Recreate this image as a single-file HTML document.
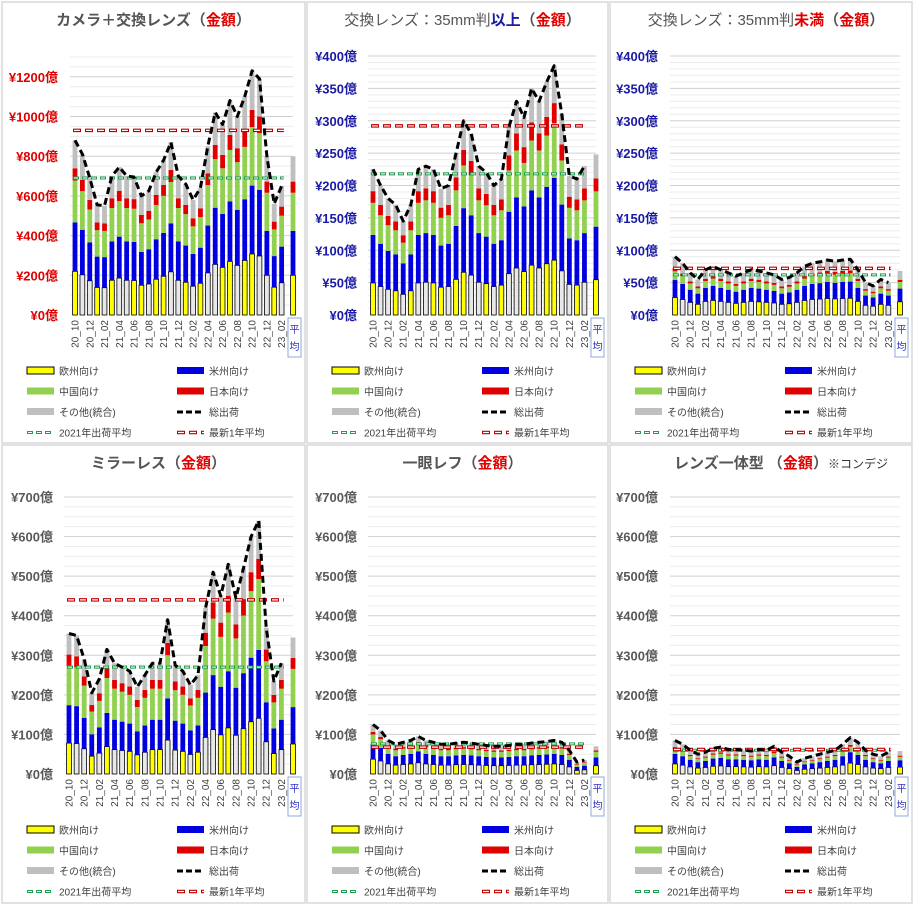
<!DOCTYPE html>
<html><head><meta charset="utf-8"><style>
body{margin:0;background:#fff;}
svg{display:block;font-family:"Liberation Sans","Noto Sans CJK JP",sans-serif;}
</style></head><body>
<svg id="s" width="915" height="906" viewBox="0 0 915 906" xmlns="http://www.w3.org/2000/svg"></svg>
<script>
const S=document.getElementById('s');let h='';
h+='<rect x="0" y="0" width="915" height="906" fill="#fff"/>';
const P=[
 {x:2,y:2,w:303,h:441,z:315,top:57,max:1300,step:200,minor:50,lc:'#e00000',lx:58,pl:70,sc:39.7/200,
  tot:[880,810,690,555,550,700,745,700,695,600,625,720,780,870,700,660,580,640,850,1020,960,1080,1000,1100,1230,1190,800,560,650],avg:800,red:930,grn:690,f:[.25,.28,.24,.07],
  title:[['カメラ＋交換レンズ','#555'],['（','#555'],['金額','#e00000'],['）','#555']]},
 {x:307,y:2,w:301,h:441,z:315,top:56,max:400,step:50,minor:10,lc:'#1a1aa6',lx:357,pl:368,sc:259/400,
  tot:[225,200,180,170,145,170,225,230,225,195,200,250,300,280,230,220,200,210,290,330,305,350,330,360,385,310,215,210,230],avg:248,red:292,grn:218,f:[.22,.33,.22,.08],
  title:[['交換レンズ：35mm判','#555',1],['以上','#1a1aa6'],['（','#555'],['金額','#e00000'],['）','#555']]},
 {x:610,y:2,w:302,h:441,z:315,top:56,max:400,step:50,minor:10,lc:'#1a1aa6',lx:658,pl:670,sc:259/400,
  tot:[90,80,65,55,70,75,70,65,60,65,70,68,65,62,55,58,65,75,80,82,85,83,85,86,70,50,45,55,50],avg:68,red:72,grn:62,f:[.3,.3,.15,.05],
  title:[['交換レンズ：35mm判','#555',1],['未満','#e00000'],['（','#555'],['金額','#e00000'],['）','#555']]},
 {x:2,y:445,w:303,h:458,z:774,top:497,max:700,step:100,minor:25,lc:'#595959',lx:53,pl:64,sc:277/700,
  tot:[355,350,290,205,240,315,280,270,260,220,250,280,280,390,275,260,225,250,420,510,450,530,445,520,600,640,370,235,280],avg:345,red:440,grn:270,f:[.22,.27,.28,.08],
  title:[['ミラーレス','#555'],['（','#555'],['金額','#e00000'],['）','#555']]},
 {x:307,y:445,w:301,h:458,z:774,top:497,max:700,step:100,minor:25,lc:'#595959',lx:357,pl:368,sc:277/700,
  tot:[125,110,85,75,80,85,95,85,80,75,75,78,80,78,75,72,70,70,72,75,75,78,80,82,85,80,60,30,35],avg:70,red:68,grn:76,f:[.3,.3,.2,.05],
  title:[['一眼レフ','#555'],['（','#555'],['金額','#e00000'],['）','#555']]},
 {x:610,y:445,w:302,h:458,z:774,top:497,max:700,step:100,minor:25,lc:'#595959',lx:658,pl:670,sc:277/700,
  tot:[85,75,60,50,55,65,68,62,62,60,58,62,60,70,55,45,30,40,45,50,55,60,75,92,80,60,50,45,55],avg:58,red:62,grn:60,f:[.3,.3,.15,.05],
  title:[['レンズ一体型 ','#555'],['（','#555'],['金額','#e00000'],['）','#555'],['※コンデジ','#333',1]]}
];
const labs=['20_10','20_12','21_02','21_04','21_06','21_08','21_10','21_12','22_02','22_04','22_06','22_08','22_10','22_12','23_02'];
P.forEach((p,pi)=>{
 h+=`<rect x="${p.x}" y="${p.y}" width="${p.w}" height="${p.h}" fill="#fff" stroke="#d9d9d9" stroke-width="1.5"/>`;
 const pr=p.x+p.w-12, Y=v=>p.z-v*p.sc;
 for(let v=p.minor;v<=p.max;v+=p.minor){const y=Y(v);if(y<p.top-2)break;
  h+=`<line x1="${p.pl}" x2="${pr}" y1="${y}" y2="${y}" stroke="${v%p.step==0?'#d0d0d0':'#ececec'}" stroke-width="1"/>`;}
 for(let v=0;v<=p.max;v+=p.step){const y=Y(v);if(y<p.top-2)break;
  h+=`<text x="${p.lx}" y="${y+5}" text-anchor="end" font-size="13" font-weight="bold" fill="${p.lc}">¥${v}億</text>`;}
 const ty=p.y+23;let tt='';
 p.title.forEach(t=>{tt+=`<tspan fill="${t[1]}" font-weight="${t[2]?'normal':'bold'}" font-size="${t[2]&&pi==5?12:15}">${t[0]}</tspan>`});
 h+=`<text x="${p.x+p.w/2+(pi==5?20:pi==0?0:5)}" y="${ty}" text-anchor="middle" font-size="15">${tt}</text>`;
 const x0=p.pl+5, dx=(pr-4-x0)/29, bw=4.8;
 const cols=['#ffff00','#0000e0','#92d050','#e00000','#bfbfbf'];
 const all=p.tot.concat([p.avg]);
 all.forEach((t,i)=>{const cx=(i==29?pr:x0+i*dx);let acc=0;
  const segs=[t*p.f[0],t*p.f[1],t*p.f[2],t*p.f[3]];segs.push(t-segs.reduce((a,b)=>a+b,0));
  segs.forEach((s,k)=>{const y1=Y(acc+s),hh=s*p.sc;
   if(k==0){const c=(i%3==1||i%4==2)?'#e8e8e8':'#ffff00';
    h+=`<rect x="${cx-bw/2}" y="${y1}" width="${bw}" height="${hh}" fill="${c}" stroke="#000" stroke-width="0.8"/>`;}
   else h+=`<rect x="${cx-bw/2}" y="${y1}" width="${bw}" height="${hh}" fill="${cols[k]}"/>`;
   acc+=s;});
 });
 const xe=x0+28.3*dx;
 h+=`<line x1="${x0-2}" x2="${xe}" y1="${Y(p.grn)}" y2="${Y(p.grn)}" stroke="#1e9e50" stroke-width="3" stroke-dasharray="6,3"/><line x1="${x0-2}" x2="${xe}" y1="${Y(p.grn)}" y2="${Y(p.grn)}" stroke="#fff" stroke-width="1" stroke-dasharray="4,5" stroke-dashoffset="-1"/>`;
 h+=`<line x1="${x0-2}" x2="${xe}" y1="${Y(p.red)}" y2="${Y(p.red)}" stroke="#c00000" stroke-width="3.5" stroke-dasharray="8,4"/><line x1="${x0-2}" x2="${xe}" y1="${Y(p.red)}" y2="${Y(p.red)}" stroke="#fff" stroke-width="1.2" stroke-dasharray="6,6" stroke-dashoffset="-1"/>`;
 let d='';p.tot.forEach((t,i)=>{d+=(i?'L':'M')+(x0+i*dx).toFixed(1)+','+Y(t).toFixed(1)});
 h+=`<path d="${d}" fill="none" stroke="#000" stroke-width="3" stroke-dasharray="7,4" stroke-linejoin="round"/>`;
 labs.forEach((l,j)=>{const cx=x0+2*j*dx;
  h+=`<text transform="translate(${cx+3.5},${p.z+5}) rotate(-90)" text-anchor="end" font-size="10" fill="#404040">${l}</text>`;});
 const bx=pr;
 h+=`<rect x="${bx-5}" y="${p.z+3}" width="13" height="39" fill="#fff" stroke="#8ea9db" stroke-width="1"/>`;
 h+=`<text x="${bx+1.5}" y="${p.z+18}" text-anchor="middle" font-size="10" fill="#3030c0">平</text><text x="${bx+1.5}" y="${p.z+35}" text-anchor="middle" font-size="10" fill="#3030c0">均</text>`;
 const ly=p.z+56, lx=p.x+25, rx=p.x+175;
 const items=[['欧州向け','y'],['米州向け','#0000e0'],['中国向け','#92d050'],['日本向け','#e00000'],['その他(統合)','#bfbfbf'],['総出荷','k'],['2021年出荷平均','g'],['最新1年平均','r']];
 items.forEach((it,k)=>{const X=k%2?rx:lx,yy=ly+Math.floor(k/2)*20.5;
  if(it[1]=='y')h+=`<rect x="${X}" y="${yy-4}" width="27" height="7" fill="#ffff00" stroke="#000" stroke-width="1"/>`;
  else if(it[1]=='k')h+=`<line x1="${X}" x2="${X+27}" y1="${yy}" y2="${yy}" stroke="#000" stroke-width="3" stroke-dasharray="6,3"/>`;
  else if(it[1]=='g')h+=`<line x1="${X}" x2="${X+27}" y1="${yy}" y2="${yy}" stroke="#1e9e50" stroke-width="3" stroke-dasharray="6,3"/><line x1="${X}" x2="${X+27}" y1="${yy}" y2="${yy}" stroke="#fff" stroke-width="1" stroke-dasharray="4,5" stroke-dashoffset="-1"/>`;
  else if(it[1]=='r')h+=`<line x1="${X}" x2="${X+27}" y1="${yy}" y2="${yy}" stroke="#c00000" stroke-width="3.5" stroke-dasharray="8,4"/><line x1="${X}" x2="${X+27}" y1="${yy}" y2="${yy}" stroke="#fff" stroke-width="1.2" stroke-dasharray="6,6" stroke-dashoffset="-1"/>`;
  else h+=`<rect x="${X}" y="${yy-4}" width="27" height="7" fill="${it[1]}"/>`;
  h+=`<text x="${X+32}" y="${yy+4}" font-size="10" fill="#404040">${it[0]}</text>`;});
});
S.innerHTML=h;
</script>
</body></html>
